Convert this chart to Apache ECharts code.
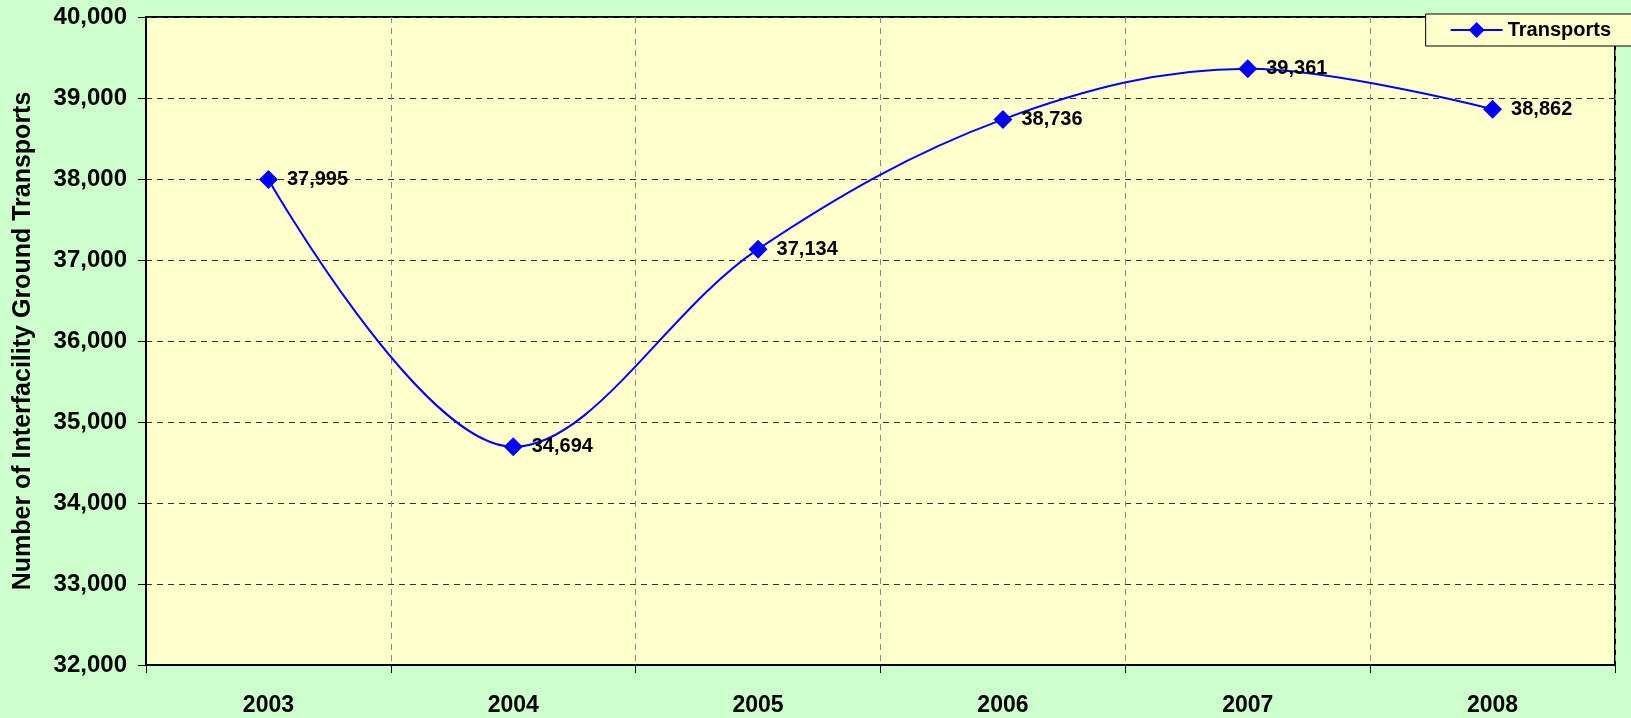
<!DOCTYPE html>
<html>
<head>
<meta charset="utf-8">
<script src="https://cdn.jsdelivr.net/npm/echarts@6/dist/echarts.min.js"></script>
<style>
  html, body { margin: 0; padding: 0; background: #CCFFCC; }
  #chart { width: 1631px; height: 718px; }
</style>
</head>
<body>
<div id="chart"></div>
<script>
const years = ['2003', '2004', '2005', '2006', '2007', '2008'];
const transports = [37995, 34694, 37134, 38736, 39361, 38862];
const yTicks = { min: 32000, max: 40000, step: 1000 };

const myChart = echarts.init(document.getElementById('chart'), null, { renderer: 'canvas' });

const option = {
  backgroundColor: '#CCFFCC',
  textStyle: { fontFamily: 'Liberation Sans, Arial, sans-serif' },
  grid: {
    left: 146, right: 16, top: 17, bottom: 53,
    show: true,
    backgroundColor: '#FFFFCC',
    borderColor: '#000',
    borderWidth: 2
  },
  legend: {
    data: ['Transports'],
    right: -6,
    top: 14,
    padding: [6, 26, 6, 24],
    itemWidth: 52,
    itemHeight: 20,
    itemGap: 5,
    backgroundColor: '#FFFFCC',
    borderColor: '#000',
    borderWidth: 1,
    borderRadius: 0,
    textStyle: { fontWeight: 'bold', fontSize: 20, color: '#000' }
  },
  xAxis: {
    type: 'category',
    data: years,
    boundaryGap: true,
    axisLine: { lineStyle: { color: '#000', width: 2 } },
    axisTick: { show: true, length: 8, lineStyle: { color: '#000', width: 1 } },
    axisLabel: { fontWeight: 'bold', fontSize: 23, color: '#000', margin: 29 },
    splitLine: { show: true, lineStyle: { color: '#888', type: [6, 5], width: 1 } }
  },
  yAxis: {
    type: 'value',
    min: yTicks.min,
    max: yTicks.max,
    interval: yTicks.step,
    name: 'Number of Interfacility Ground Transports',
    nameLocation: 'middle',
    nameGap: 110,
    nameTextStyle: { fontWeight: 'bold', fontSize: 25, color: '#000' },
    axisLine: { show: true, lineStyle: { color: '#000', width: 2 } },
    axisTick: { show: true, length: 8, lineStyle: { color: '#000', width: 1 } },
    axisLabel: {
      fontWeight: 'bold', fontSize: 24, color: '#000', margin: 19,
      formatter: v => v.toLocaleString('en-US')
    },
    splitLine: { show: true, lineStyle: { color: '#333', type: [6, 5], width: 1 } }
  },
  series: [
    {
      name: 'Transports',
      type: 'line',
      data: transports,
      smooth: 0.35,
      symbol: 'diamond',
      symbolSize: 19,
      itemStyle: { color: '#0000FF' },
      lineStyle: { color: '#0000FF', width: 2 },
      label: {
        show: true,
        position: 'right',
        distance: 9,
        fontWeight: 'bold',
        fontSize: 20,
        color: '#000',
        formatter: p => p.value.toLocaleString('en-US')
      }
    }
  ]
};

myChart.setOption(option);
window.onresize = function () {
  myChart.resize();
};
</script>
</body>
</html>
